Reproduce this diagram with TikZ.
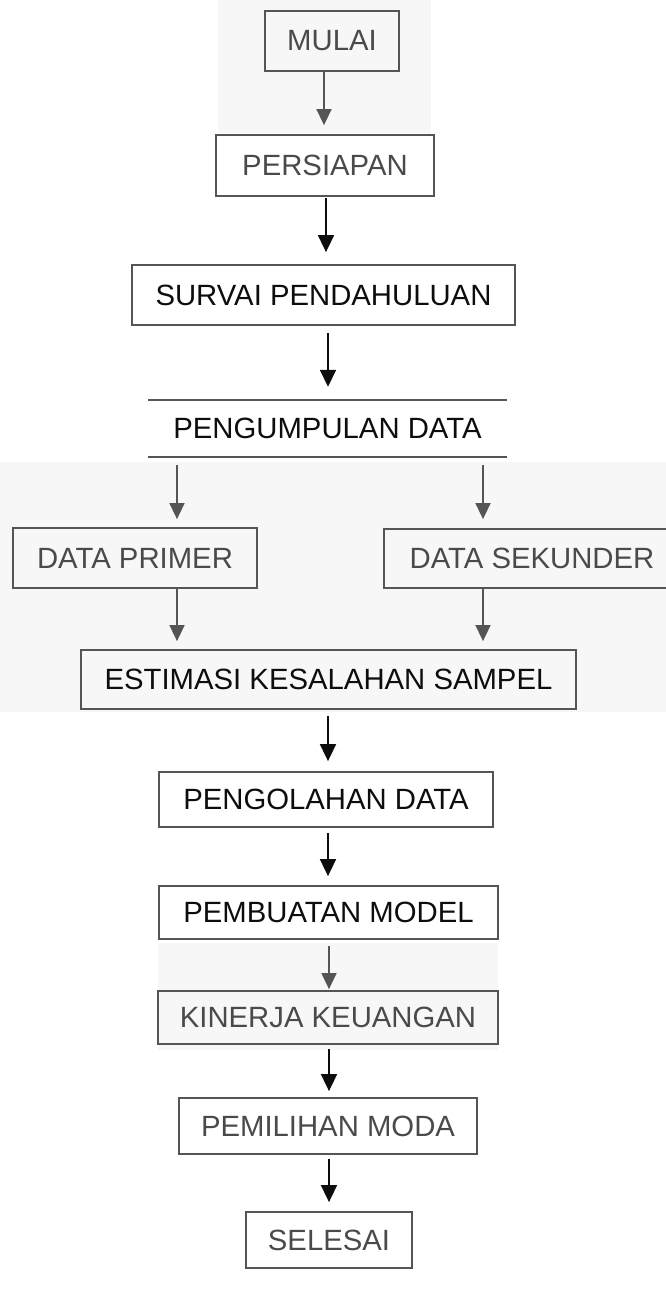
\documentclass[tikz,border=0pt]{standalone}
\usepackage{fontspec}
\setmainfont{Liberation Sans}
\usetikzlibrary{arrows.meta}
\definecolor{gtext}{HTML}{4A4A4A}
\definecolor{gline}{HTML}{555555}
\definecolor{btext}{HTML}{0D0D0D}
\definecolor{bgband}{HTML}{F7F7F7}
\tikzset{
  box/.style={draw=gline, line width=1.8pt, inner sep=0pt, anchor=center},
  fbox/.style 2 args={box, minimum width=#1, minimum height=#2},
  gtx/.style={text=gtext},
  btx/.style={text=btext},
  arrg/.style={-{Triangle[width=15pt,length=16pt]}, line width=1.6pt, draw=gline},
  arrb/.style={-{Triangle[width=16pt,length=17pt]}, line width=1.7pt, draw=btext},
  rule/.style={draw=gline, line width=1.8pt}
}
\begin{document}
\begin{tikzpicture}[x=1pt,y=-1pt,font=\fontsize{29.3}{32}\selectfont]
\useasboundingbox (0,0) rectangle (666,1312);
\clip (0,0) rectangle (666,1312);
% faint scan background tints
\fill[bgband] (0,462) rectangle (666,712);
\fill[bgband] (218,0) rectangle (431,133);
\fill[bgband] (158,943) rectangle (498,1050);

% nodes
\node[fbox={134}{60}, gtx] (mulai) at (332,41) {MULAI};
\node[fbox={218}{61}, gtx] (persiapan) at (325,165.5) {PERSIAPAN};
\node[fbox={383}{60}, btx] (survai) at (323.5,295) {SURVAI PENDAHULUAN};
\node[inner sep=0pt, minimum width=359, minimum height=57, btx] (kumpul) at (327.5,428.5) {PENGUMPULAN DATA};
\draw[rule] (kumpul.north west) -- (kumpul.north east);
\draw[rule] (kumpul.south west) -- (kumpul.south east);
\node[fbox={244}{60}, gtx] (primer) at (135,558) {DATA PRIMER};
\node[fbox={296}{59}, gtx] (sekunder) at (532,558.5) {DATA SEKUNDER};
\node[fbox={495}{59}, btx] (estimasi) at (328.5,679.5) {ESTIMASI KESALAHAN SAMPEL};
\node[fbox={334}{55}, btx] (olah) at (326,799.5) {PENGOLAHAN DATA};
\node[fbox={339}{53}, btx] (model) at (328.5,912.5) {PEMBUATAN MODEL};
\node[fbox={340}{53}, gtx] (kinerja) at (328,1017.5) {KINERJA KEUANGAN};
\node[fbox={298}{56}, gtx] (moda) at (328,1126) {PEMILIHAN MODA};
\node[fbox={166}{56}, gtx] (selesai) at (329,1240) {SELESAI};

% arrow columns
\coordinate (cA) at (324,0);
\coordinate (cB) at (326,0);
\coordinate (cC) at (328,0);
\coordinate (cD) at (329,0);
\coordinate (cL) at (177,0);
\coordinate (cR) at (483,0);

% connectors
\draw[arrg, shorten >=9pt] (mulai.south -| cA) -- (persiapan.north -| cA);
\draw[arrb, shorten <=1pt, shorten >=12pt] (persiapan.south -| cB) -- (survai.north -| cB);
\draw[arrb, shorten <=7pt, shorten >=13pt] (survai.south -| cC) -- (kumpul.north -| cC);
\draw[arrg, shorten <=8pt, shorten >=8pt] (kumpul.south -| cL) -- (primer.north -| cL);
\draw[arrg, shorten <=8pt, shorten >=9pt] (kumpul.south -| cR) -- (sekunder.north -| cR);
\draw[arrg, shorten >=8pt] (primer.south -| cL) -- (estimasi.north -| cL);
\draw[arrg, shorten >=8pt] (sekunder.south -| cR) -- (estimasi.north -| cR);
\draw[arrb, shorten <=6pt, shorten >=10pt] (estimasi.south -| cC) -- (olah.north -| cC);
\draw[arrb, shorten <=5pt, shorten >=9pt] (olah.south -| cC) -- (model.north -| cC);
\draw[arrg, shorten <=6pt, shorten >=1pt] (model.south -| cD) -- (kinerja.north -| cD);
\draw[arrb, shorten <=4pt, shorten >=6pt] (kinerja.south -| cD) -- (moda.north -| cD);
\draw[arrb, shorten <=4pt, shorten >=9pt] (moda.south -| cD) -- (selesai.north -| cD);
\end{tikzpicture}
\end{document}
